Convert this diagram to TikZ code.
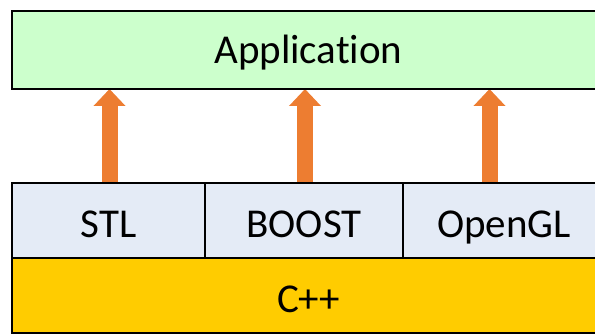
\documentclass[tikz,border=0pt]{standalone}
\usepackage{fontspec}
\setmainfont{Carlito}[Ligatures=CommonOff]
\usetikzlibrary{arrows.meta}

\definecolor{appgreen}{HTML}{CCFFCC}
\definecolor{libblue}{HTML}{E4EBF6}
\definecolor{langgold}{HTML}{FFCC00}
\definecolor{floworange}{HTML}{ED7D31}

\tikzset{
  layer/.style={draw=black, line width=2.8pt, inner sep=0pt, outer sep=0pt,
    font=\fontsize{41}{48}\selectfont, text height=33pt, text depth=0pt},
  applayer/.style={layer, fill=appgreen, text height=27pt},
  liblayer/.style={layer, fill=libblue},
  langlayer/.style={layer, fill=langgold},
  fatarrow/.style={draw=floworange, line width=16pt,
    -{Triangle[width=31pt, length=17pt, fill=floworange]}}
}

\begin{document}
\begin{tikzpicture}[x=1pt, y=-1pt]
  \useasboundingbox (0,0) rectangle (595,334);
  \clip (0,0) rectangle (595,334);

  % layers of the stack
  \node[applayer, minimum width=593pt, minimum height=78pt] (app) at (308.5,50) {Application};
  \node[liblayer, minimum width=193pt, minimum height=75pt] (stl) at (108.5,220.5) {STL};
  \node[liblayer, minimum width=198pt, minimum height=75pt] (boost) at (304,220.5) {BOOST};
  \node[liblayer, minimum width=202pt, minimum height=75pt] (opengl) at (504,220.5) {OpenGL};
  \node[langlayer, minimum width=593pt, minimum height=75.5pt] (cpp) at (308.5,295.75) {C++};

  % dependencies pointing up to the application
  \draw[fatarrow] ([xshift=1pt]stl.north) -- ([xshift=1pt]stl.north |- app.south);
  \draw[fatarrow] ([xshift=1pt]boost.north) -- ([xshift=1pt]boost.north |- app.south);
  \draw[fatarrow] ([xshift=-14.5pt]opengl.north) -- ([xshift=-14.5pt]opengl.north |- app.south);

  % keep the box outlines above the arrow ends
  \draw[line width=2.8pt] (stl.north west) -- (opengl.north east);
  \draw[line width=2.8pt] (app.south west) -- (app.south east);
\end{tikzpicture}
\end{document}
